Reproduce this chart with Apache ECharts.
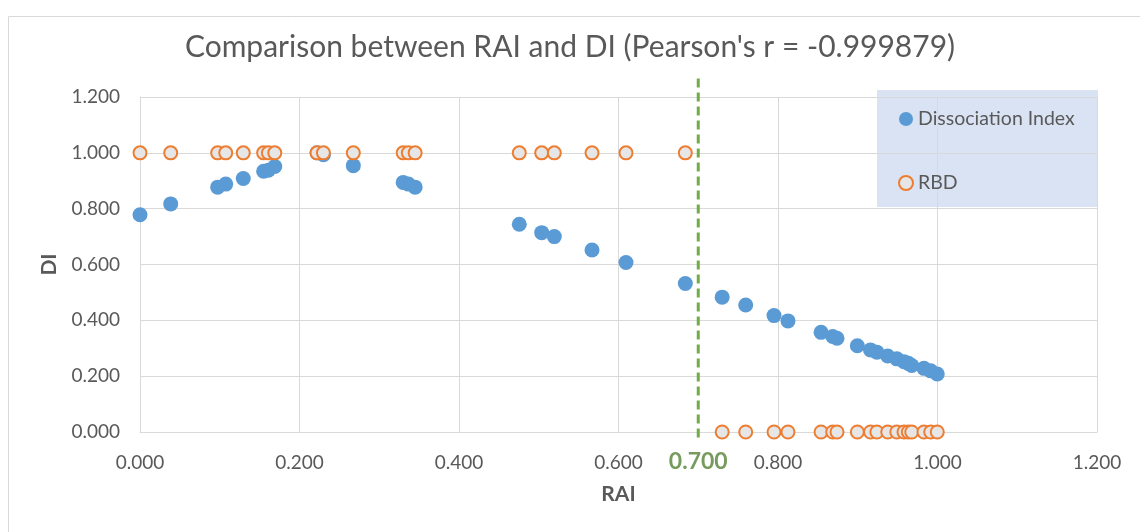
<!DOCTYPE html>
<html>
<head>
<meta charset="utf-8">
<script src="https://cdn.jsdelivr.net/npm/echarts@6/dist/echarts.min.js"></script>
<style>
html,body{margin:0;padding:0;background:#fff;}
#chart{width:1140px;height:532px;}
</style>
</head>
<body>
<div id="chart"></div>
<script>
// RAI values (x)
const rai = [0.000, 0.0385, 0.0974, 0.1075, 0.1295, 0.155, 0.161, 0.169, 0.222, 0.230,
  0.2675, 0.330, 0.3365, 0.345, 0.4756, 0.5037, 0.5195, 0.5668, 0.6094, 0.6838,
  0.730, 0.7595, 0.795, 0.8125, 0.854, 0.8686, 0.874, 0.8995, 0.916, 0.924,
  0.9376, 0.949, 0.958, 0.9634, 0.9677, 0.983, 0.9915, 0.9997];
// Dissociation Index values (y)
const di = [0.778, 0.817, 0.877, 0.888, 0.908, 0.934, 0.938, 0.951, 1.000, 0.993,
  0.954, 0.894, 0.888, 0.877, 0.744, 0.714, 0.700, 0.652, 0.607, 0.532,
  0.483, 0.455, 0.417, 0.398, 0.357, 0.342, 0.336, 0.309, 0.294, 0.286,
  0.272, 0.262, 0.252, 0.246, 0.238, 0.228, 0.219, 0.208];
// RBD values (y)
const rbd = [1,1,1,1,1,1,1,1,1,1, 1,1,1,1,1,1,1,1,1,1,
  0,0,0,0,0,0,0,0,0,0, 0,0,0,0,0,0,0,0];
const threshold = 0.7;
const thresholdLabel = '0.700';
const titleText = "Comparison between RAI and DI (Pearson's r = -0.999879)";

const FONT = 'Lato';
const grey = '#595959';
const chart = echarts.init(document.getElementById('chart'), null, {renderer: 'canvas'});
chart.setOption({
  backgroundColor: '#ffffff',
  animation: false,
  textStyle: {fontFamily: FONT},
  title: {
    text: titleText, left: 'center', top: 27,
    textStyle: {fontFamily: FONT, fontSize: 30, fontWeight: 'normal', color: grey}
  },
  graphic: [
    {type: 'rect', left: 6, top: 14, shape: {width: 1200, height: 600}, style: {fill: 'none', stroke: '#d9d9d9', lineWidth: 1}, silent: true, z: -10},
    {type: 'rect', left: 877, top: 90, shape: {width: 221, height: 117}, style: {fill: '#dae3f3'}, silent: true, z: 0}
  ],
  legend: {
    data: ['Dissociation Index', 'RBD'],
    orient: 'vertical', left: 893, top: 104, itemGap: 44,
    itemWidth: 14, itemHeight: 14, icon: 'circle',
    textStyle: {fontFamily: FONT, fontSize: 19.5, color: grey},
    z: 5
  },
  grid: {left: 140, right: 43, top: 97, bottom: 100, containLabel: false},
  xAxis: {
    type: 'value', min: 0, max: 1.2, interval: 0.2,
    name: 'RAI', nameLocation: 'middle', nameGap: 52,
    nameTextStyle: {fontFamily: FONT, fontSize: 21, fontWeight: 'bold', color: grey},
    axisLine: {show: true, lineStyle: {color: '#d9d9d9'}},
    axisTick: {show: false},
    splitLine: {show: true, lineStyle: {color: '#d9d9d9'}},
    axisLabel: {formatter: v => v.toFixed(3), fontFamily: FONT, fontSize: 19, color: grey, margin: 21}
  },
  yAxis: {
    type: 'value', min: 0, max: 1.2, interval: 0.2,
    name: 'DI', nameLocation: 'middle', nameGap: 80, nameRotate: 90,
    nameTextStyle: {fontFamily: FONT, fontSize: 21, fontWeight: 'bold', color: grey},
    axisLine: {show: true, lineStyle: {color: '#d9d9d9'}},
    axisTick: {show: false},
    splitLine: {show: true, lineStyle: {color: '#d9d9d9'}},
    axisLabel: {formatter: v => v.toFixed(3), fontFamily: FONT, fontSize: 19, color: grey, margin: 20}
  },
  series: [
    {
      name: 'threshold', type: 'line', clip: false, silent: true, symbol: 'none',
      data: [[threshold, -0.02], [threshold, 1.27]],
      lineStyle: {color: '#70ad47', width: 3, type: [9, 5]}, z: 2
    },
    {
      name: 'thresholdLabel', type: 'scatter', clip: false, silent: true, symbolSize: 0,
      data: [[threshold, 0]],
      label: {show: true, position: 'bottom', distance: 18, formatter: thresholdLabel,
        fontFamily: FONT, fontSize: 23, fontWeight: 'bold', color: '#548235'}
    },
    {
      name: 'Dissociation Index', type: 'scatter', symbol: 'circle', symbolSize: 15,
      data: rai.map((x, i) => [x, di[i]]),
      itemStyle: {color: '#5b9bd5', opacity: 1}, z: 3
    },
    {
      name: 'RBD', type: 'scatter', symbol: 'circle', symbolSize: 13, clip: false,
      data: rai.map((x, i) => [x, rbd[i]]),
      itemStyle: {color: '#e7e6e6', borderColor: '#ed7d31', borderWidth: 2, opacity: 1}, z: 4
    }
  ]
});
</script>
</body>
</html>
